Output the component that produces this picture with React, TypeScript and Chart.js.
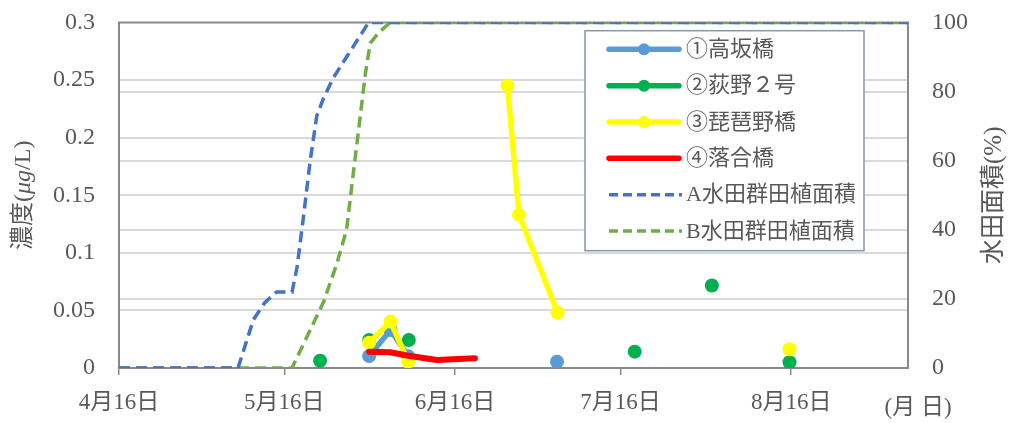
import React, { useEffect, useRef } from "react";
import { Chart, registerables } from "chart.js";

Chart.register(...registerables);

// ---- data ----
const xTickDays = [0, 30, 61, 91, 122];
const xTickLabels = ["4月16日", "5月16日", "6月16日", "7月16日", "8月16日"];
const xMaxDay = 143.2;

const leftTicks = [0, 0.05, 0.1, 0.15, 0.2, 0.25, 0.3];
const leftTickLabels = ["0", "0.05", "0.1", "0.15", "0.2", "0.25", "0.3"];
const rightTicks = [0, 20, 40, 60, 80, 100];
const rightTickLabels = ["0", "20", "40", "60", "80", "100"];

const seriesNames = [
  "①高坂橋",
  "②荻野２号",
  "③琵琶野橋",
  "④落合橋",
  "A水田群田植面積",
  "B水田群田植面積",
];

const takasakaDays = [45.4, 49.3, 52.5, 66, 79.5];
const takasakaValues = [0.0104, 0.033, 0.0101, null, 0.0055];

const oginoDays = [36.5, 45.4, 52.6, 93.6, 107.6, 121.7];
const oginoValues = [0.0063, 0.0243, 0.0243, 0.0142, 0.0716, 0.005];

const biwanoDays = [45.4, 49.3, 52.5, 61, 70.5, 72.6, 79.6, 100, 121.7];
const biwanoValues = [0.022, 0.0403, 0.0055, null, 0.2452, 0.133, 0.0481, null, 0.0163];

const ochiaiDays = [45.4, 49.2, 52.5, 57.7, 64.6];
const ochiaiValues = [0.0142, 0.0137, 0.0106, 0.007, 0.0084];

const areaADays = [0, 21.6, 24.4, 26.5, 28.6, 31.4, 32.3, 33.5, 34.7, 35.9, 37.1, 38.9, 41.3, 45.3, 143.2];
const areaAValues = [0, 0, 14, 19, 22, 22, 29, 44, 60, 73, 78, 84, 90, 100, 100];

const areaBDays = [0, 31.4, 34.1, 37.1, 39.5, 41.3, 42.2, 42.8, 43.8, 44.7, 45.6, 47.1, 49.2, 143.2];
const areaBValues = [0, 0, 9, 19, 30, 40, 52, 60, 73, 85, 94, 97, 100, 100];

// ---- styles ----
const FONT = '"Liberation Serif", "Noto Sans CJK JP", serif';
const TEXT = "#595959";
const GRID = "#d9d9d9";
const AXIS = "#898989";
const seriesColors = ["#5B9BD5", "#00B050", "#FFFF00", "#FF0000", "#4472C4", "#70AD47"];
const DASH = [11, 6];

const pts = (xs: number[], ys: (number | null)[]) => xs.map((x, i) => ({ x, y: ys[i] }));

export default function App() {
  const ref = useRef<HTMLCanvasElement | null>(null);

  useEffect(() => {
    if (!ref.current) return;

    const decor = {
      id: "decor",
      beforeDatasetsDraw(chart: any) {
        const { ctx, chartArea: a } = chart;
        ctx.save();
        ctx.strokeStyle = AXIS;
        ctx.lineWidth = 2;
        ctx.strokeRect(a.left, a.top, a.right - a.left, a.bottom - a.top);
        ctx.restore();
      },
      afterDraw(chart: any) {
        const { ctx, chartArea: a } = chart;
        ctx.save();
        ctx.fillStyle = TEXT;
        ctx.textBaseline = "middle";
        // left title
        ctx.save();
        ctx.translate(24, (a.top + a.bottom) / 2);
        ctx.rotate(-Math.PI / 2);
        const parts = [
          { t: "濃度(", it: false },
          { t: "μg", it: true },
          { t: "/L)", it: false },
        ];
        let total = 0;
        for (const p of parts) {
          ctx.font = `${p.it ? "italic " : ""}24px ${FONT}`;
          total += ctx.measureText(p.t).width;
        }
        let cx = -total / 2;
        ctx.textAlign = "left";
        for (const p of parts) {
          ctx.font = `${p.it ? "italic " : ""}24px ${FONT}`;
          ctx.fillText(p.t, cx, 0);
          cx += ctx.measureText(p.t).width;
        }
        ctx.restore();
        // right title
        ctx.save();
        ctx.translate(994, (a.top + a.bottom) / 2);
        ctx.rotate(-Math.PI / 2);
        ctx.textAlign = "center";
        ctx.font = `25px ${FONT}`;
        ctx.fillText("水田面積(%)", 0, 0);
        ctx.restore();
        // x unit
        ctx.textAlign = "center";
        ctx.font = `23px ${FONT}`;
        ctx.fillText("(月 日)", 918, 408);

        // legend
        const lx = 585, ly = 30.7, lw = 279, lh = 220;
        ctx.fillStyle = "#ffffff";
        ctx.fillRect(lx, ly, lw, lh);
        ctx.strokeStyle = "#8497B0";
        ctx.lineWidth = 1.5;
        ctx.strokeRect(lx, ly, lw, lh);
        for (let i = 0; i < seriesNames.length; i++) {
          const y = 49.3 + i * 36.35;
          const color = seriesColors[i];
          ctx.strokeStyle = color;
          ctx.lineCap = i >= 4 ? "butt" : "round";
          ctx.lineWidth = i >= 4 ? 3.5 : 5.5;
          ctx.setLineDash(i >= 4 ? [9, 5] : []);
          ctx.beginPath();
          ctx.moveTo(609, y);
          ctx.lineTo(i >= 4 ? 682 : 679, y);
          ctx.stroke();
          ctx.setLineDash([]);
          if (i < 3) {
            ctx.fillStyle = color;
            ctx.beginPath();
            ctx.arc(644, y, 6, 0, Math.PI * 2);
            ctx.fill();
          }
          ctx.fillStyle = TEXT;
          ctx.textAlign = "left";
          ctx.font = `22px ${FONT}`;
          ctx.fillText(seriesNames[i], 686, y + 1);
        }
        ctx.restore();
      },
    };

    const lineSeries = (i: number, data: any[], order: number, extra: any = {}) => ({
      label: seriesNames[i],
      data,
      yAxisID: "y",
      borderColor: seriesColors[i],
      backgroundColor: seriesColors[i],
      borderWidth: 5.5,
      pointRadius: 7,
      pointHoverRadius: 7,
      pointBorderWidth: 0,
      tension: 0,
      spanGaps: false,
      borderCapStyle: "round",
      borderJoinStyle: "round",
      order,
      ...extra,
    });

    const areaSeries = (i: number, data: any[], order: number) => ({
      label: seriesNames[i],
      data,
      yAxisID: "y2",
      borderColor: seriesColors[i],
      backgroundColor: seriesColors[i],
      borderWidth: 3.5,
      borderDash: DASH,
      pointRadius: 0,
      pointHoverRadius: 0,
      tension: 0,
      order,
    });

    const fitVertical = (w: number) => (s: any) => {
      s.width = w;
      s.paddingTop = 0;
      s.paddingBottom = 0;
    };

    const chart = new Chart(ref.current, {
      type: "line",
      data: {
        datasets: [
          lineSeries(0, pts(takasakaDays, takasakaValues), 4),
          lineSeries(1, pts(oginoDays, oginoValues), 3, { showLine: false }),
          lineSeries(2, pts(biwanoDays, biwanoValues), 2),
          lineSeries(3, pts(ochiaiDays, ochiaiValues), 1, { pointRadius: 0, borderWidth: 6 }),
          areaSeries(4, pts(areaADays, areaAValues), 5),
          areaSeries(5, pts(areaBDays, areaBValues), 6),
        ] as any,
      },
      options: {
        animation: false,
        responsive: true,
        maintainAspectRatio: false,
        events: [],
        layout: { padding: { top: 22.5, left: 0, right: 0, bottom: 0 } },
        plugins: {
          legend: { display: false },
          tooltip: { enabled: false },
        },
        scales: {
          x: {
            type: "linear",
            min: 0,
            max: xMaxDay,
            afterBuildTicks: (s: any) => {
              s.ticks = xTickDays.map((v) => ({ value: v }));
            },
            afterFit: (s: any) => {
              s.height = 55;
              s.paddingLeft = 0;
              s.paddingRight = 0;
            },
            ticks: {
              autoSkip: false,
              maxRotation: 0,
              minRotation: 0,
              padding: 14,
              color: TEXT,
              font: { family: FONT, size: 23 },
              callback: (v: any) => {
                const k = xTickDays.indexOf(Number(v));
                return k >= 0 ? xTickLabels[k] : "";
              },
            },
            grid: {
              drawOnChartArea: false,
              drawTicks: true,
              tickLength: 7,
              color: AXIS,
              lineWidth: 1.5,
            },
            border: { display: false },
          },
          y: {
            type: "linear",
            position: "left",
            min: 0,
            max: 0.3,
            afterBuildTicks: (s: any) => {
              s.ticks = leftTicks.map((v) => ({ value: v }));
            },
            afterFit: fitVertical(119),
            ticks: {
              padding: 24,
              color: TEXT,
              font: { family: FONT, size: 24 },
              callback: (v: any, idx: number) => leftTickLabels[idx],
            },
            grid: {
              drawTicks: false,
              lineWidth: 2,
              color: (c: any) =>
                c.tick && (c.tick.value === 0 || c.tick.value === 0.3) ? "rgba(0,0,0,0)" : GRID,
            },
            border: { display: false },
          },
          y2: {
            type: "linear",
            position: "right",
            min: 0,
            max: 100,
            afterBuildTicks: (s: any) => {
              s.ticks = rightTicks.map((v) => ({ value: v }));
            },
            afterFit: fitVertical(103),
            ticks: {
              padding: 24,
              color: TEXT,
              font: { family: FONT, size: 24 },
              callback: (v: any, idx: number) => rightTickLabels[idx],
            },
            grid: {
              drawTicks: false,
              lineWidth: 2,
              color: (c: any) =>
                c.tick && (c.tick.value === 0 || c.tick.value === 100) ? "rgba(0,0,0,0)" : GRID,
            },
            border: { display: false },
          },
        },
      } as any,
      plugins: [decor],
    });

    return () => chart.destroy();
  }, []);

  return (
    <div style={{ position: "fixed", left: 0, top: 0, width: 1011, height: 423, background: "#fff" }}>
      <canvas ref={ref} />
    </div>
  );
}
